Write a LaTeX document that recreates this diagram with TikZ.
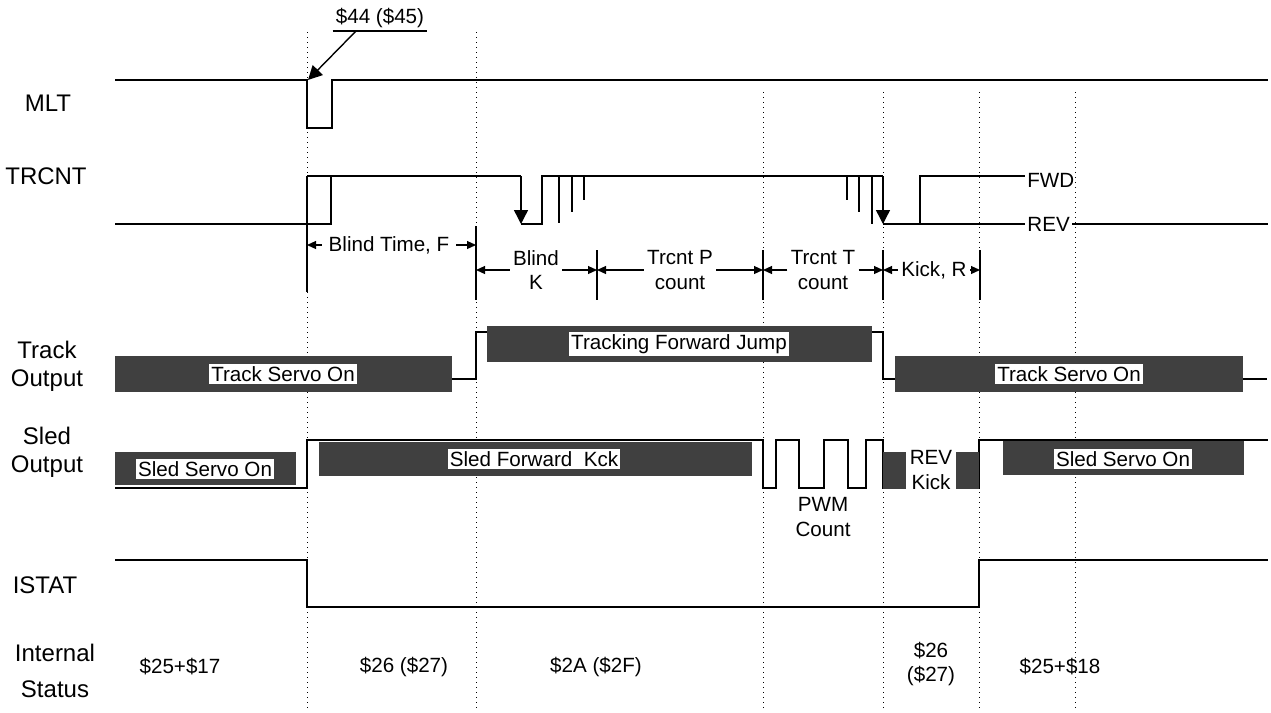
\documentclass[tikz,border=0pt]{standalone}
\usepackage{fontspec}
\setmainfont{Liberation Sans}
\usetikzlibrary{positioning, arrows.meta}

\begin{document}
\begin{tikzpicture}[x=0.5pt, y=-0.5pt,
    font=\fontsize{10.3}{12.4}\selectfont,
    sig/.style={line width=0.7pt},
    marker/.style={dotted, line width=0.5pt},
    band/.style={fill=black!75, draw=none},
    boxlbl/.style={fill=white, inner sep=1pt},
    signame/.style={align=center, font=\fontsize{12}{14}\selectfont},
    dimline/.style={-{Triangle[length=4.5pt, width=4pt]}, line width=0.6pt},
    dropline/.style={-{Triangle[length=7pt, width=7pt]}, line width=0.7pt}]
  \useasboundingbox (0,0) rectangle (1271,713);

  % Draw dotted time markers
  \foreach \x/\t in {307/32, 476/32, 763/92, 883/92, 979/92, 1075/92} {
    \draw[marker] (\x,\t) -- (\x,708);
  }

  % Signal names
  \node[signame] (mlt) at (48,103) {MLT};
  \node[signame] (trcnt) at (46,176) {TRCNT};
  \node[signame] (trackout) at (47,366) {Track\\Output};
  \node[signame] (sledout) at (47,452) {Sled\\Output};
  \node[signame] (istat) at (45,585) {ISTAT};
  \node[signame] (intstat) at (55,671) {Internal\\[4pt]Status};

  % MLT
  \draw[sig] (115,80) -- (307,80) -- (307,128) -- (332,128) -- (332,80) -- (1268,80);
  \node[anchor=south, inner sep=1.5pt] (tag44) at (380,31) {\$44 (\$45)};
  \draw[line width=0.6pt] (tag44.south west) -- (tag44.south east);
  \coordinate (tagfoot) at (356,31);
  \coordinate (mltfall) at (308,80);
  \draw[dropline] (tagfoot) -- (mltfall);

  % TRCNT
  \draw[sig] (115,224) -- (331,224) -- (331,176);
  \draw[sig] (307,176) -- (521,176);
  \coordinate (drop1) at (521,176);
  \coordinate (drop1end) at (521,224);
  \draw[dropline] (drop1) -- (drop1end);
  \draw[sig] (521,224) -- (542,224) -- (542,176) -- (883,176);
  \foreach \x/\y in {559/223, 572/212, 584/200, 847/200, 859/212, 872/224} {
    \draw[sig] (\x,176) -- (\x,\y);
  }
  \coordinate (drop2) at (883,176);
  \coordinate (drop2end) at (883,224);
  \draw[dropline] (drop2) -- (drop2end);
  \node[anchor=west, inner sep=1pt] (fwd) at (1025,180) {FWD};
  \node[anchor=west, inner sep=1pt] (rev) at (1025,224) {REV};
  \draw[sig] (883,224) -- (920,224) -- (920,176) -- (fwd.west |- 920,176);
  \draw[sig] (920,224) -- (rev.west);
  \draw[sig] (rev.east) -- (1268,224);

  % Interval marks
  \draw[sig] (307,176) -- (307,292);
  \draw[sig] (476,226) -- (476,300);
  \foreach \x in {597, 763, 883, 980} {
    \draw[sig] (\x,250) -- (\x,300);
  }
  \coordinate (m0) at (307,245);
  \coordinate (m1) at (476,245);
  \node (blindtime) at (389,245) {Blind Time, F};
  \draw[dimline] (blindtime) -- (m0);
  \draw[dimline] (blindtime) -- (m1);

  \foreach \n/\cx/\txt/\l/\r in {blindk/536/Blind\\K/476/597,
                                 trcntp/680/Trcnt P\\count/597/763,
                                 trcntt/823/Trcnt T\\count/763/883,
                                 kickr/934/{Kick, R}/883/980} {
    \node[align=center, inner sep=1.5pt] (\n) at (\cx,270) {\txt};
    \coordinate (\n-l) at (\l,270);
    \coordinate (\n-r) at (\r,270);
    \draw[dimline] (\n.west) -- (\n-l);
    \draw[dimline] (\n.east) -- (\n-r);
  }

  % Track output
  \draw[sig] (115,379) -- (476,379) -- (476,332) -- (883,332) -- (883,379) -- (1267,379);
  \fill[band] (115,356) rectangle (452,392);
  \fill[band] (487,326) rectangle (872,362);
  \fill[band] (895,356) rectangle (1243,392);
  \node[boxlbl] (trackon1) at (283,374) {Track Servo On};
  \node[boxlbl] (trackjump) at (679,344) {Tracking Forward Jump};
  \node[boxlbl] (trackon2) at (1069,374) {Track Servo On};

  % Sled output
  \draw[sig] (115,488) -- (307,488) -- (307,440) -- (763,440) -- (763,488)
    -- (776,488) -- (776,440) -- (799,440) -- (799,488) -- (824,488) -- (824,440)
    -- (848,440) -- (848,488) -- (866,488) -- (866,440) -- (883,440) -- (883,488)
    -- (979,488) -- (979,440) -- (1268,440);
  \fill[band] (115,452) rectangle (296,485);
  \fill[band] (319,442) rectangle (752,476);
  \fill[band] (883,452) rectangle (979,489);
  \fill[band] (1003,441) rectangle (1244,475);
  \node[boxlbl] (sledon1) at (205,469) {Sled Servo On};
  \node[boxlbl] (sledfwd) at (534,459) {Sled Forward\ \ Kck};
  \node[boxlbl, align=center, inner sep=2pt] (revkick) at (931,470) {REV\\Kick};
  \node[boxlbl] (sledon2) at (1123,459) {Sled Servo On};
  \node[align=center] (pwm) at (823,517) {PWM\\Count};

  % ISTAT
  \draw[sig] (115,560) -- (307,560) -- (307,607) -- (979,607) -- (979,560) -- (1268,560);

  % Internal status values
  \foreach \n/\x/\s in {st1/180/\$25+\$17, st2/404/\$26 (\$27), st3/596/\$2A (\$2F), st5/1060/\$25+\$18} {
    \node (\n) at (\x,667) {\s};
  }
  \node[align=center] (st4) at (931,664) {\$26\\(\$27)};
\end{tikzpicture}
\end{document}
